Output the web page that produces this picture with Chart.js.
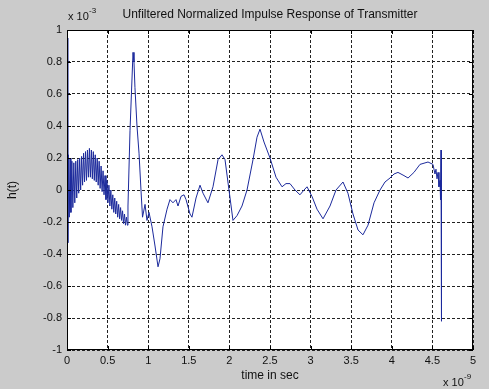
<!DOCTYPE html>
<html><head><meta charset="utf-8">
<style>html,body{margin:0;padding:0;background:#cbcbcb;overflow:hidden}</style>
<script src="https://cdn.jsdelivr.net/npm/chart.js@4.4.1/dist/chart.umd.min.js"></script>
</head><body>
<canvas id="c" width="489" height="389"></canvas>
<script>
// time in units of 1e-9 s
const times = [
 0.006, 0.010, 0.018, 0.028, 0.038, 0.048,
 0.060, 0.072, 0.084, 0.096, 0.108, 0.120, 0.132, 0.144, 0.156, 0.168, 0.180, 0.192,
 0.204, 0.216, 0.228, 0.240, 0.252, 0.264, 0.276, 0.288, 0.300, 0.312, 0.324, 0.336,
 0.348, 0.360, 0.372, 0.384, 0.396, 0.408, 0.420, 0.432, 0.444, 0.456, 0.468, 0.480,
 0.492, 0.504, 0.516, 0.528, 0.540, 0.552, 0.564, 0.576, 0.588, 0.600, 0.612, 0.624,
 0.636, 0.648, 0.660, 0.672, 0.684, 0.696, 0.708, 0.720, 0.732, 0.744,
 0.751, 0.776, 0.813, 0.825, 0.837, 0.862, 0.887, 0.911, 0.93, 0.961, 0.985, 1.01, 1.047, 1.084, 1.121,
 1.145, 1.182, 1.232, 1.268, 1.305, 1.342, 1.367, 1.404, 1.441, 1.466, 1.515, 1.539, 1.589, 1.638, 1.675,
 1.736, 1.798, 1.86, 1.909, 1.946, 1.995, 2.044, 2.094, 2.155, 2.217, 2.291, 2.34, 2.377, 2.426, 2.5,
 2.574, 2.648, 2.697, 2.746, 2.808, 2.869, 2.919, 2.956, 3.017, 3.079, 3.153, 3.239, 3.313, 3.399, 3.46,
 3.522, 3.584, 3.645, 3.707, 3.781, 3.855, 3.916, 3.978, 4.027, 4.076, 4.15, 4.2, 4.273, 4.347, 4.446,
 4.507, 4.532, 4.544, 4.557, 4.569, 4.581, 4.594, 4.6, 4.606, 4.612
];
// h(t) in units of 1e-3
const values = [
 0.95, -0.33, 0.22, -0.17, 0.20, -0.14,
 0.18, -0.11, 0.17, -0.08, 0.18, -0.05, 0.19, -0.02, 0.20, 0.00, 0.21, 0.03,
 0.23, 0.05, 0.24, 0.06, 0.25, 0.08, 0.26, 0.08, 0.25, 0.07, 0.24, 0.06,
 0.22, 0.05, 0.20, 0.03, 0.18, 0.01, 0.15, -0.01, 0.12, -0.03, 0.09, -0.06,
 0.06, -0.08, 0.03, -0.10, 0.00, -0.12, -0.03, -0.14, -0.05, -0.15, -0.07, -0.17,
 -0.09, -0.18, -0.11, -0.19, -0.13, -0.21, -0.15, -0.22, -0.17, -0.22,
 -0.10, 0.37, 0.86, 0.80, 0.64, 0.40, 0.23, 0.00, -0.17, -0.09, -0.19, -0.14, -0.23, -0.35, -0.48,
 -0.43, -0.23, -0.12, -0.06, -0.08, -0.06, -0.10, -0.04, -0.03, -0.06, -0.15, -0.17, -0.05, 0.03, -0.02,
 -0.08, 0.02, 0.19, 0.22, 0.19, 0.00, -0.19, -0.16, -0.10, 0.00, 0.19, 0.33, 0.38, 0.30, 0.20,
 0.08, 0.02, 0.04, 0.04, 0.00, -0.03, 0.00, 0.02, -0.04, -0.12, -0.18, -0.10, 0.00, 0.05, -0.02,
 -0.15, -0.25, -0.28, -0.22, -0.08, 0.00, 0.05, 0.075, 0.10, 0.11, 0.09, 0.075, 0.11, 0.16, 0.175,
 0.16, 0.10, 0.13, 0.07, 0.11, 0.02, 0.06, -0.06, 0.25, -0.82
];
const xTicks = [0, 0.5, 1, 1.5, 2, 2.5, 3, 3.5, 4, 4.5, 5];
const yTicks = [-1, -0.8, -0.6, -0.4, -0.2, 0, 0.2, 0.4, 0.6, 0.8, 1];
const xTickLabels = ['0','0.5','1','1.5','2','2.5','3','3.5','4','4.5','5'];
const yTickLabels = ['-1','-0.8','-0.6','-0.4','-0.2','0','0.2','0.4','0.6','0.8','1'];

const FONT = "'Liberation Sans', Arial, sans-serif";
const BG = '#cbcbcb';

const deco = {
  id: 'deco',
  beforeDraw(chart) {
    const {ctx, chartArea: a} = chart;
    ctx.save();
    ctx.fillStyle = BG;
    ctx.fillRect(0, 0, chart.width, chart.height);
    ctx.fillStyle = '#ffffff';
    ctx.fillRect(a.left, a.top, a.right - a.left, a.bottom - a.top);
    ctx.restore();
  },
  afterDraw(chart) {
    const {ctx, chartArea: a, scales} = chart;
    ctx.save();
    ctx.strokeStyle = '#000';
    ctx.lineWidth = 1;
    ctx.setLineDash([]);
    ctx.strokeRect(a.left + 0.5, a.top + 0.5, a.right - a.left - 1, a.bottom - a.top - 1);
    ctx.beginPath();
    xTicks.forEach(v => {
      const x = Math.round(scales.x.getPixelForValue(v)) + 0.5;
      ctx.moveTo(x, a.bottom); ctx.lineTo(x, a.bottom - 4);
      ctx.moveTo(x, a.top); ctx.lineTo(x, a.top + 4);
    });
    yTicks.forEach(v => {
      const y = Math.round(scales.y.getPixelForValue(v)) + 0.5;
      ctx.moveTo(a.left, y); ctx.lineTo(a.left + 4, y);
      ctx.moveTo(a.right, y); ctx.lineTo(a.right - 4, y);
    });
    ctx.stroke();
    // exponent labels
    ctx.fillStyle = '#111';
    ctx.textBaseline = 'alphabetic';
    ctx.textAlign = 'left';
    ctx.font = '11px ' + FONT;
    ctx.fillText('x 10', a.left + 1, a.top - 10);
    ctx.font = '8px ' + FONT;
    ctx.fillText('-3', a.left + 22, a.top - 17);
    ctx.font = '11px ' + FONT;
    ctx.fillText('x 10', a.right - 30, chart.height - 3);
    ctx.font = '8px ' + FONT;
    ctx.fillText('-9', a.right - 9, chart.height - 10);
    ctx.restore();
  }
};

new Chart(document.getElementById('c'), {
  type: 'line',
  data: {
    datasets: [{
      data: times.map((t, i) => ({x: t, y: values[i]})),
      borderColor: '#1c2a9c',
      borderWidth: 1,
      pointRadius: 0,
      tension: 0,
      fill: false
    }]
  },
  options: {
    responsive: false,
    animation: false,
    devicePixelRatio: 1,
    layout: {padding: {left: 0, right: 16, top: 0, bottom: 0}},
    plugins: {
      legend: {display: false},
      tooltip: {enabled: false},
      title: {
        display: true,
        text: 'Unfiltered Normalized Impulse Response of Transmitter',
        color: '#111',
        font: {family: FONT, size: 12, weight: 'normal'},
        padding: {top: 7, bottom: 8.6},
        fullSize: false
      }
    },
    scales: {
      x: {
        type: 'linear', min: 0, max: 5,
        afterBuildTicks: s => { s.ticks = xTicks.map(v => ({value: v})); },
        afterFit: s => { s.height = 39; },
        ticks: {
          color: '#111', padding: 4, maxRotation: 0, autoSkip: false,
          font: {family: FONT, size: 11},
          callback: (v) => xTickLabels[xTicks.indexOf(v)]
        },
        grid: {color: '#222', drawTicks: false, lineWidth: 1},
        border: {display: false, dash: [3, 2]},
        title: {display: true, text: 'time in sec', color: '#111',
                font: {family: FONT, size: 12}, padding: {top: 0, bottom: 6}}
      },
      y: {
        type: 'linear', min: -1, max: 1,
        afterBuildTicks: s => { s.ticks = yTicks.map(v => ({value: v})); },
        afterFit: s => { s.width = 67; },
        ticks: {
          color: '#111', padding: 5, autoSkip: false,
          font: {family: FONT, size: 11},
          callback: (v) => yTickLabels[yTicks.indexOf(v)]
        },
        grid: {color: '#222', drawTicks: false, lineWidth: 1},
        border: {display: false, dash: [3, 2]},
        title: {display: true, text: 'h(t)', color: '#111',
                font: {family: FONT, size: 12}, padding: {top: 5, bottom: 0}}
      }
    }
  },
  plugins: [deco]
});
</script>
</body></html>
